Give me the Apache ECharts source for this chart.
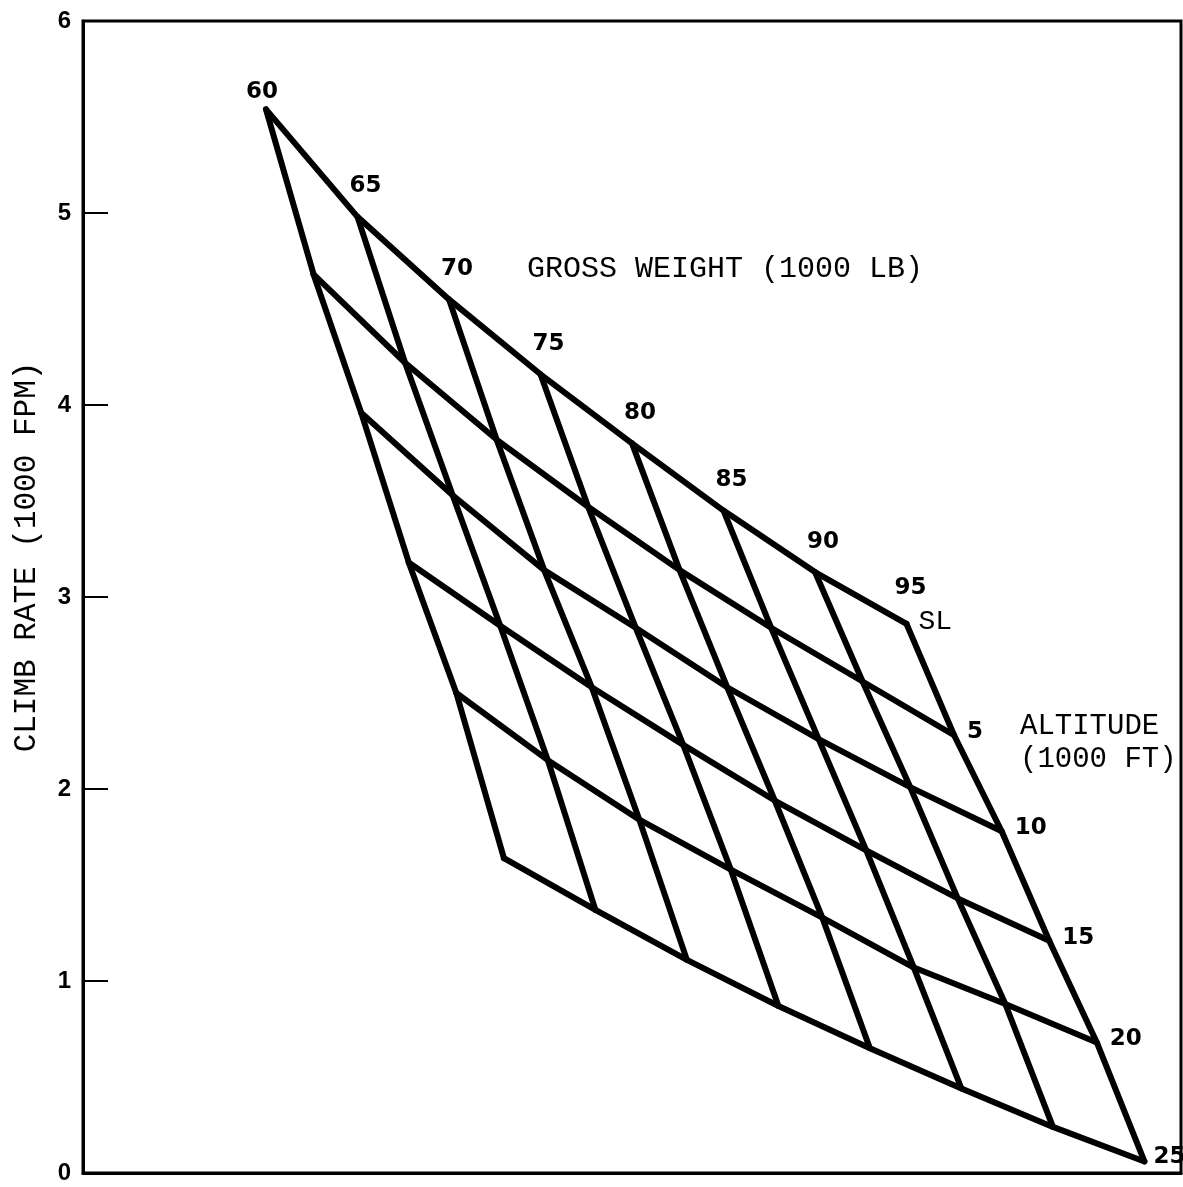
<!DOCTYPE html>
<html>
<head>
<meta charset="utf-8">
<script src="https://cdn.jsdelivr.net/npm/echarts@6/dist/echarts.min.js"></script>
<style>
  html, body { margin: 0; padding: 0; background: #fff; }
  #chart { width: 1183px; height: 1187px; }
</style>
</head>
<body>
<div id="chart"></div>
<script>
// Carpet of climb rate against gross weight and altitude
const weights = [60, 65, 70, 75, 80, 85, 90, 95];          // gross weight, 1000 lb
const altitudes = [0, 5, 10, 15, 20, 25];                   // altitude, 1000 ft
const altitudeLabels = ['SL', '5', '10', '15', '20', '25'];

// Climb rate (1000 fpm) at SL, 5, 10, 15, 20, 25 thousand ft for each gross weight
const climbW60 = [5.54, 4.68, 3.96, 3.18, 2.50, 1.64];
const climbW65 = [4.98, 4.22, 3.53, 2.85, 2.15, 1.37];
const climbW70 = [4.55, 3.82, 3.14, 2.53, 1.84, 1.11];
const climbW75 = [4.16, 3.47, 2.84, 2.23, 1.58, 0.87];
const climbW80 = [3.80, 3.14, 2.53, 1.94, 1.33, 0.65];
const climbW85 = [3.45, 2.84, 2.26, 1.68, 1.07, 0.44];
const climbW90 = [3.13, 2.56, 2.01, 1.43, 0.88, 0.24];
const climbW95 = [2.86, 2.28, 1.78, 1.21, 0.68, 0.06];
const climbRates = [climbW60, climbW65, climbW70, climbW75, climbW80, climbW85, climbW90, climbW95];

const yTicks = [0, 1, 2, 3, 4, 5, 6];

// Carpet construction: abscissa = weight + shift * altitude (horizontal axis carries no scale)
const carpetShift = 0.52;
const carpetX = (w, h) => w + carpetShift * h;

const INK = '#000';
const SANS = '"Liberation Sans", Arial, sans-serif';
const NUM = '"DejaVu Sans", "Liberation Sans", sans-serif';
const MONO = '"Liberation Mono", "Courier New", monospace';

const lineStyle = { color: INK, width: 6, cap: 'round', join: 'round' };
const series = [];

// constant gross weight lines
weights.forEach((w, i) => {
  series.push({
    type: 'line', symbol: 'none', silent: true, animation: false,
    lineStyle,
    data: altitudes.map((h, j) => [carpetX(w, h), climbRates[i][j]])
  });
});

// constant altitude lines
altitudes.forEach((h, j) => {
  series.push({
    type: 'line', symbol: 'none', silent: true, animation: false,
    lineStyle,
    data: weights.map((w, i) => [carpetX(w, h), climbRates[i][j]])
  });
});

// invisible anchor points carrying text labels
function labelSeries(points, label) {
  return {
    type: 'scatter', silent: true, animation: false,
    symbol: 'circle', symbolSize: 2,
    itemStyle: { color: 'rgba(0,0,0,0)', opacity: 1 },
    data: points,
    label: Object.assign({ show: true, formatter: '{b}', color: INK }, label)
  };
}

const numFont = { fontFamily: NUM, fontSize: 23, fontWeight: 'bold' };

// weight labels along the sea-level edge
const slPoint = (i) => ({ value: [carpetX(weights[i], 0), climbRates[i][0]], name: String(weights[i]) });
const last = weights.length - 1;
series.push(labelSeries([slPoint(0)],
  Object.assign({ position: 'top', distance: 5, offset: [-4, 0] }, numFont)));
series.push(labelSeries(weights.slice(1, last).map((w, k) => slPoint(k + 1)),
  Object.assign({ position: 'top', distance: 5, offset: [8, -13] }, numFont)));
series.push(labelSeries([slPoint(last)],
  Object.assign({ position: 'top', distance: 5, offset: [4, -18] }, numFont)));

// altitude labels along the heaviest-weight edge
const lastAlt = altitudes.length - 1;
const edgePoint = (j) => ({ value: [carpetX(weights[last], altitudes[j]), climbRates[last][j]], name: altitudeLabels[j] });
series.push(labelSeries([edgePoint(0)],
  { position: 'right', distance: 11, offset: [0, -2], fontFamily: MONO, fontSize: 28 }));
series.push(labelSeries(altitudes.slice(1, lastAlt).map((h, k) => edgePoint(k + 1)),
  Object.assign({ position: 'right', distance: 12, offset: [0, -3] }, numFont)));
series.push(labelSeries([edgePoint(lastAlt)],
  Object.assign({ position: 'right', distance: 8, offset: [0, -4] }, numFont)));

const chart = echarts.init(document.getElementById('chart'), null, { renderer: 'canvas' });
chart.setOption({
  backgroundColor: '#fff',
  animation: false,
  grid: {
    left: 83, right: 2, top: 21, bottom: 14,
    show: true, borderColor: INK, borderWidth: 3, backgroundColor: 'transparent'
  },
  xAxis: {
    type: 'value', min: 50, max: 110,
    axisLine: { show: true, lineStyle: { color: INK, width: 3 } },
    axisTick: { show: false }, axisLabel: { show: false }, splitLine: { show: false }
  },
  yAxis: {
    type: 'value', min: yTicks[0], max: yTicks[yTicks.length - 1], interval: 1,
    axisLine: { show: true, lineStyle: { color: INK, width: 3 } },
    axisTick: { show: true, inside: true, length: 25, lineStyle: { color: INK, width: 2 } },
    axisLabel: {
      margin: 12, color: INK, fontFamily: SANS, fontSize: 24, fontWeight: 'bold'
    },
    splitLine: { show: false }
  },
  graphic: [
    {
      type: 'text', x: 527, y: 269, silent: true,
      style: {
        text: 'GROSS WEIGHT (1000 LB)', fill: INK, font: '30px ' + MONO,
        textAlign: 'left', textVerticalAlign: 'middle', align: 'left', verticalAlign: 'middle'
      }
    },
    {
      type: 'text', x: 1020, y: 743, silent: true,
      style: {
        text: 'ALTITUDE\n(1000 FT)', fill: INK, font: '29px ' + MONO, lineHeight: 33,
        textAlign: 'left', textVerticalAlign: 'middle', align: 'left', verticalAlign: 'middle'
      }
    },
    {
      type: 'text', x: 27, y: 557, rotation: Math.PI / 2, silent: true,
      style: {
        text: 'CLIMB RATE (1000 FPM)', fill: INK, font: '31px ' + MONO,
        textAlign: 'center', textVerticalAlign: 'middle', align: 'center', verticalAlign: 'middle'
      }
    }
  ],
  series
});
</script>
</body>
</html>
